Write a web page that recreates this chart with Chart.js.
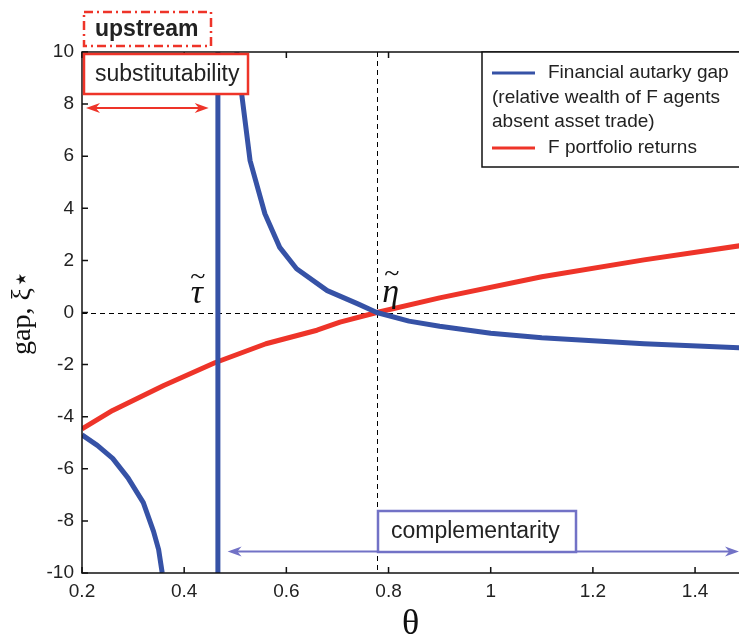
<!DOCTYPE html>
<html>
<head>
<meta charset="utf-8">
<script src="https://cdn.jsdelivr.net/npm/chart.js@4.4.1/dist/chart.umd.min.js"></script>
<style>
  body { margin: 0; background: #fff; }
  #wrap { width: 739px; height: 641px; position: relative; }
</style>
</head>
<body>
<div id="wrap"><canvas id="gapChart"></canvas></div>
<script>
// theta values and the two curves
const gapLeftTheta  = [0.2, 0.23, 0.26, 0.29, 0.32, 0.34, 0.35, 0.357];
const gapLeftValue  = [-4.7, -5.1, -5.6, -6.35, -7.3, -8.4, -9.1, -10];
const poleTheta     = [0.466, 0.466];
const poleValue     = [-10, 10];
const gapRightTheta = [0.503, 0.5125, 0.529, 0.558, 0.587, 0.62, 0.68, 0.74, 0.777, 0.84, 0.9, 1.0, 1.1, 1.3, 1.49];
const gapRightValue = [10, 8.4, 5.83, 3.79, 2.5, 1.68, 0.84, 0.33, 0.0, -0.33, -0.53, -0.8, -0.97, -1.2, -1.36];
const returnsTheta  = [0.2, 0.26, 0.36, 0.46, 0.56, 0.66, 0.705, 0.777, 0.9, 1.1, 1.3, 1.49];
const returnsValue  = [-4.47, -3.76, -2.8, -1.93, -1.2, -0.68, -0.37, 0, 0.56, 1.37, 2.02, 2.57];

const xTickValues = [0.2, 0.4, 0.6, 0.8, 1.0, 1.2, 1.4];
const xTickLabels = ['0.2', '0.4', '0.6', '0.8', '1', '1.2', '1.4'];
const yTickValues = [-10, -8, -6, -4, -2, 0, 2, 4, 6, 8, 10];
const yTickLabels = ['-10', '-8', '-6', '-4', '-2', '0', '2', '4', '6', '8', '10'];

const tauTilde = 0.466;
const etaTilde = 0.777;

const legendLabels = ['Financial autarky gap', '(relative wealth of F agents', 'absent asset trade)', 'F portfolio returns'];

const BLUE = '#3652a6';
const RED = '#ee3429';
const SANS = '"Liberation Sans", Arial, sans-serif';
const SERIF = '"Liberation Serif", "DejaVu Serif", serif';

function pts(xs, ys) {
  return xs.map((x, i) => ({ x: x, y: ys[i] }));
}

function arrow(ctx, x1, x2, y, color, head, half) {
  ctx.save();
  ctx.strokeStyle = color;
  ctx.fillStyle = color;
  ctx.lineWidth = 2;
  ctx.beginPath();
  ctx.moveTo(x1 + 4, y);
  ctx.lineTo(x2 - 4, y);
  ctx.stroke();
  [[x1, 1], [x2, -1]].forEach(([x, d]) => {
    ctx.beginPath();
    ctx.moveTo(x, y);
    ctx.lineTo(x + d * head, y - half);
    ctx.lineTo(x + d * head * 0.7, y);
    ctx.lineTo(x + d * head, y + half);
    ctx.closePath();
    ctx.fill();
  });
  ctx.restore();
}

const decor = {
  id: 'decor',
  beforeDatasetsDraw(chart) {
    const { ctx, chartArea: a, scales: { x, y } } = chart;
    ctx.save();
    ctx.strokeStyle = '#000';
    ctx.lineWidth = 1;
    ctx.setLineDash([5, 4]);
    const y0 = Math.round(y.getPixelForValue(0)) + 0.5;
    ctx.beginPath(); ctx.moveTo(a.left, y0); ctx.lineTo(a.right, y0); ctx.stroke();
    const xe = Math.round(x.getPixelForValue(etaTilde)) + 0.5;
    ctx.beginPath(); ctx.moveTo(xe, a.top); ctx.lineTo(xe, a.bottom); ctx.stroke();
    ctx.restore();
  },
  afterDraw(chart) {
    const { ctx, chartArea: a, scales: { x, y } } = chart;
    ctx.save();
    // frame + inward ticks
    ctx.strokeStyle = '#111';
    ctx.lineWidth = 1.5;
    ctx.strokeRect(a.left, a.top, a.right - a.left + 2, a.bottom - a.top);
    ctx.beginPath();
    xTickValues.forEach(v => {
      const px = x.getPixelForValue(v);
      ctx.moveTo(px, a.bottom); ctx.lineTo(px, a.bottom - 6);
      ctx.moveTo(px, a.top); ctx.lineTo(px, a.top + 6);
    });
    yTickValues.forEach(v => {
      const py = y.getPixelForValue(v);
      ctx.moveTo(a.left, py); ctx.lineTo(a.left + 6, py);
    });
    ctx.stroke();

    // tilde labels
    ctx.fillStyle = '#111';
    ctx.font = 'italic 34px ' + SERIF;
    ctx.textAlign = 'center';
    ctx.textBaseline = 'alphabetic';
    const tx = x.getPixelForValue(tauTilde) - 21;
    ctx.fillText('τ', tx, 303);
    ctx.font = '28px ' + SERIF;
    ctx.fillText('~', tx + 1, 285);
    const ex = x.getPixelForValue(etaTilde) + 14;
    ctx.font = 'italic 34px ' + SERIF;
    ctx.fillText('η', ex, 302);
    ctx.font = '28px ' + SERIF;
    ctx.fillText('~', ex + 1, 282);

    // legend
    ctx.fillStyle = '#fff';
    ctx.fillRect(482, a.top, 260, 115);
    ctx.strokeStyle = '#111';
    ctx.lineWidth = 1.5;
    ctx.strokeRect(482, a.top, 260, 115);
    ctx.lineWidth = 3;
    ctx.strokeStyle = BLUE;
    ctx.beginPath(); ctx.moveTo(492, 73); ctx.lineTo(535, 73); ctx.stroke();
    ctx.strokeStyle = RED;
    ctx.beginPath(); ctx.moveTo(492, 148); ctx.lineTo(535, 148); ctx.stroke();
    ctx.fillStyle = '#222';
    ctx.font = '19px ' + SANS;
    ctx.textAlign = 'left';
    ctx.textBaseline = 'middle';
    ctx.fillText(legendLabels[0], 548, 73);
    ctx.fillText(legendLabels[1], 492, 98);
    ctx.fillText(legendLabels[2], 492, 122);
    ctx.fillText(legendLabels[3], 548, 148);

    // upstream box
    ctx.strokeStyle = RED;
    ctx.lineWidth = 2.5;
    ctx.setLineDash([9, 4, 2, 4]);
    ctx.strokeRect(84, 12, 127, 34);
    ctx.setLineDash([]);
    ctx.fillStyle = '#222';
    ctx.font = 'bold 23px ' + SANS;
    ctx.fillText('upstream', 95, 30);

    // substitutability box
    ctx.fillStyle = '#fff';
    ctx.fillRect(84, 54, 164, 40);
    ctx.strokeRect(84, 54, 164, 40);
    ctx.fillStyle = '#222';
    ctx.font = '23px ' + SANS;
    ctx.fillText('substitutability', 95, 75);
    arrow(ctx, 86, x.getPixelForValue(0.448), y.getPixelForValue(7.85), RED, 14, 5);

    // complementarity
    arrow(ctx, x.getPixelForValue(0.485), a.right, y.getPixelForValue(-9.17), '#7272c6', 14, 5);
    ctx.fillStyle = '#fff';
    ctx.fillRect(378, 511, 198, 41);
    ctx.strokeStyle = '#7272c6';
    ctx.lineWidth = 2.5;
    ctx.strokeRect(378, 511, 198, 41);
    ctx.fillStyle = '#222';
    ctx.font = '23px ' + SANS;
    ctx.fillText('complementarity', 391, 532);
    ctx.restore();
  }
};

const lineStyle = {
  showLine: true,
  pointRadius: 0,
  borderWidth: 5,
  borderCapStyle: 'butt',
  borderJoinStyle: 'round',
  tension: 0,
  clip: 0
};

new Chart(document.getElementById('gapChart').getContext('2d'), {
  type: 'scatter',
  data: {
    datasets: [
      Object.assign({ label: 'gap (left)', data: pts(gapLeftTheta, gapLeftValue), borderColor: BLUE }, lineStyle),
      Object.assign({ label: 'gap (pole)', data: pts(poleTheta, poleValue), borderColor: BLUE }, lineStyle),
      Object.assign({ label: 'gap (right)', data: pts(gapRightTheta, gapRightValue), borderColor: BLUE }, lineStyle),
      Object.assign({ label: 'F portfolio returns', data: pts(returnsTheta, returnsValue), borderColor: RED }, lineStyle)
    ]
  },
  options: {
    responsive: true,
    maintainAspectRatio: false,
    animation: false,
    layout: { padding: { top: 52, right: 0, left: 0, bottom: 0 } },
    plugins: { legend: { display: false }, tooltip: { enabled: false } },
    scales: {
      x: {
        type: 'linear',
        min: 0.2,
        max: 1.486,
        grid: { display: false, drawTicks: false },
        border: { display: false },
        afterBuildTicks: s => { s.ticks = xTickValues.map(v => ({ value: v })); },
        afterFit: s => { s.height = 68; },
        ticks: {
          color: '#222',
          font: { family: SANS, size: 19 },
          padding: 7,
          maxRotation: 0,
          autoSkip: false,
          callback: (v) => xTickLabels[xTickValues.indexOf(v)]
        },
        title: { display: true, text: 'θ', color: '#111', font: { family: SERIF, size: 36, lineHeight: 0.9 }, padding: { top: 0, bottom: 0 } }
      },
      y: {
        type: 'linear',
        min: -10,
        max: 10,
        grid: { display: false, drawTicks: false },
        border: { display: false },
        afterBuildTicks: s => { s.ticks = yTickValues.map(v => ({ value: v })); },
        afterFit: s => { s.width = 82; },
        ticks: {
          color: '#222',
          font: { family: SANS, size: 19 },
          padding: 8,
          autoSkip: false,
          callback: (v) => yTickLabels[yTickValues.indexOf(v)]
        },
        title: { display: true, text: 'gap, ξ⋆', color: '#111', font: { family: SERIF, size: 28 }, padding: { top: 6, bottom: 0 } }
      }
    }
  },
  plugins: [decor]
});
</script>
</body>
</html>
